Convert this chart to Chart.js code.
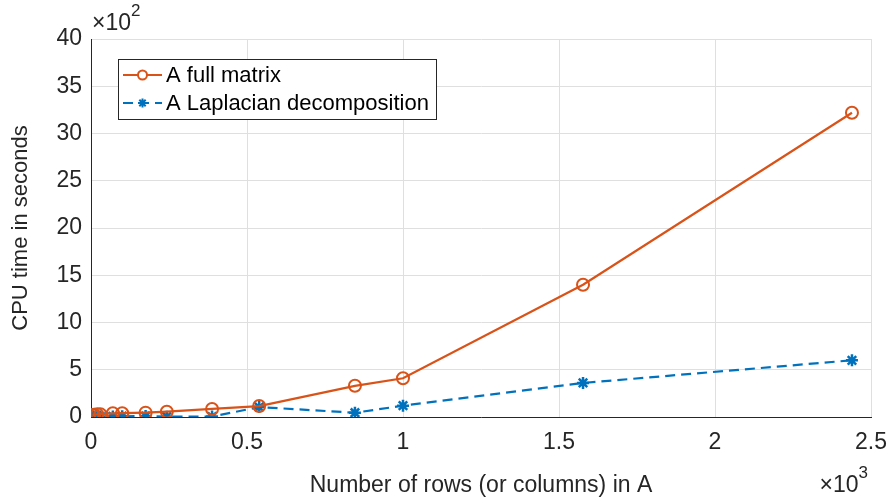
<!DOCTYPE html>
<html>
<head>
<meta charset="utf-8">
<script src="https://cdn.jsdelivr.net/npm/chart.js@4/dist/chart.umd.min.js"></script>
<style>
  html, body { margin: 0; padding: 0; background: #fff; }
  #wrap { width: 894px; height: 501px; position: relative; }
</style>
</head>
<body>
<div id="wrap"><canvas id="chart"></canvas></div>
<script>
  // number of rows (or columns) in A
  const rows = [5, 10, 20, 30, 70, 100, 175, 243, 388, 539, 846, 1000, 1577, 2439];
  // CPU time in seconds
  const fullMatrixTime = [20, 25, 28, 30, 39, 40, 46, 56, 85, 116, 330, 410, 1400, 3220];
  const laplacianTime = [2, 3, 4, 5, 6, 8, 10, 3, 4, 105, 45, 120, 360, 600];

  const seriesNames = ["A full matrix", "A Laplacian decomposition"];
  const xTicks = [0, 500, 1000, 1500, 2000, 2500];
  const yTicks = [0, 500, 1000, 1500, 2000, 2500, 3000, 3500, 4000];

  const FONT = "'Liberation Sans', Arial, Helvetica, sans-serif";
  const ORANGE = "#D95319";
  const BLUE = "#0072BD";

  const toPoints = (ys) => rows.map((x, i) => ({ x, y: ys[i] }));

  function drawPower(ctx, base, exp, x, y, align) {
    ctx.font = `23px ${FONT}`;
    const w = ctx.measureText(base).width;
    ctx.font = `17px ${FONT}`;
    const sw = ctx.measureText(exp).width;
    const left = align === "right" ? x - w - sw : x;
    ctx.font = `23px ${FONT}`;
    ctx.fillText(base, left, y);
    ctx.font = `17px ${FONT}`;
    ctx.fillText(exp, left + w, y - 14);
  }

  // draws the MATLAB style legend box and the axis exponent labels
  const extrasPlugin = {
    id: "extras",
    afterDraw(chart) {
      const ctx = chart.ctx;
      const area = chart.chartArea;
      ctx.save();

      ctx.fillStyle = "#262626";
      ctx.textBaseline = "alphabetic";
      ctx.textAlign = "left";
      drawPower(ctx, "\u00d710", "2", area.left + 1, area.top - 9, "left");
      drawPower(ctx, "\u00d710", "3", area.right - 3, area.bottom + 75, "right");

      // legend
      const lx = area.left + 27, ly = area.top + 20, lw = 318, lh = 60;
      ctx.fillStyle = "#fff";
      ctx.fillRect(lx, ly, lw, lh);
      ctx.strokeStyle = "#262626";
      ctx.lineWidth = 1;
      ctx.strokeRect(lx + 0.5, ly + 0.5, lw, lh);

      chart.data.datasets.forEach((ds, i) => {
        const cy = ly + 16 + i * 28;
        ctx.strokeStyle = ds.borderColor;
        ctx.lineWidth = 2;
        ctx.setLineDash(ds.borderDash || []);
        ctx.beginPath();
        ctx.moveTo(lx + 5, cy);
        ctx.lineTo(lx + 44, cy);
        ctx.stroke();
        ctx.setLineDash([]);
        Chart.helpers.drawPoint(ctx, {
          pointStyle: ds.pointStyle,
          radius: ds.pointRadius - 1.5,
          borderWidth: 2,
        }, lx + 24.5, cy);
        ctx.fillStyle = "#000";
        ctx.font = `22px ${FONT}`;
        ctx.textBaseline = "middle";
        ctx.fillText(ds.label, lx + 48, cy + 1);
      });

      ctx.restore();
    },
  };

  new Chart(document.getElementById("chart"), {
    type: "line",
    data: {
      datasets: [
        {
          label: seriesNames[0],
          data: toPoints(fullMatrixTime),
          borderColor: ORANGE,
          backgroundColor: "rgba(0,0,0,0)",
          borderWidth: 2.2,
          pointStyle: "circle",
          pointRadius: 6,
          pointBorderWidth: 2,
          pointBackgroundColor: "rgba(0,0,0,0)",
          pointBorderColor: ORANGE,
          tension: 0,
        },
        {
          label: seriesNames[1],
          data: toPoints(laplacianTime),
          borderColor: BLUE,
          backgroundColor: BLUE,
          borderWidth: 2.2,
          borderDash: [10, 6],
          pointStyle: "star",
          pointRadius: 6,
          pointBorderWidth: 2.5,
          pointBorderColor: BLUE,
          tension: 0,
        },
      ],
    },
    options: {
      responsive: true,
      maintainAspectRatio: false,
      animation: false,
      layout: { padding: { left: 0, top: 39, right: 23, bottom: 0 } },
      plugins: {
        legend: { display: false },
        tooltip: { enabled: false },
      },
      scales: {
        x: {
          type: "linear",
          min: 0,
          max: 2500,
          afterBuildTicks(scale) {
            scale.ticks = xTicks.map((value) => ({ value }));
          },
          afterFit(scale) {
            scale.height = 84;
            scale.paddingLeft = 0;
            scale.paddingRight = 0;
          },
          ticks: {
            color: "#262626",
            font: { family: FONT, size: 23 },
            padding: 12,
            maxRotation: 0,
            callback: (v) => String(v / 1000),
          },
          grid: { color: "#dfdfdf", drawTicks: false, lineWidth: 1 },
          border: { color: "#262626", width: 1 },
          title: {
            display: true,
            text: "Number of rows (or columns) in A",
            color: "#262626",
            font: { family: FONT, size: 23 },
            padding: { top: 2, bottom: 2 },
          },
        },
        y: {
          min: 0,
          max: 4000,
          afterBuildTicks(scale) {
            scale.ticks = yTicks.map((value) => ({ value }));
          },
          afterFit(scale) {
            scale.width = 91;
            scale.paddingTop = 0;
            scale.paddingBottom = 0;
          },
          ticks: {
            color: "#262626",
            font: { family: FONT, size: 23 },
            padding: 9,
            callback: (v) => String(v / 100),
          },
          grid: { color: "#dfdfdf", drawTicks: false, lineWidth: 1 },
          border: { color: "#262626", width: 1 },
          title: {
            display: true,
            text: "CPU time in seconds",
            color: "#262626",
            font: { family: FONT, size: 22 },
            padding: { top: 8, bottom: 2 },
          },
        },
      },
    },
    plugins: [extrasPlugin],
  });
</script>
</body>
</html>
